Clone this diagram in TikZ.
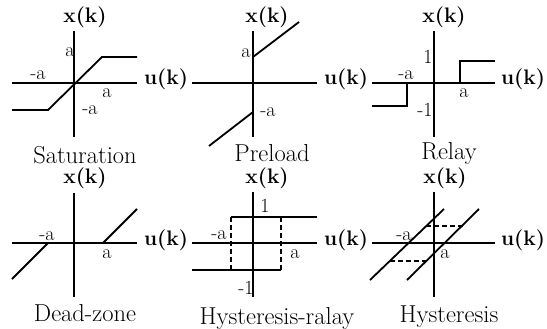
\documentclass[tikz,border=0pt]{standalone}
\begin{document}
\begin{tikzpicture}[x=1pt,y=-1pt,line width=1.8pt,
  axl/.style={font=\fontsize{21}{23}\selectfont\bfseries,inner sep=0pt},
  lbl/.style={font=\fontsize{20}{22}\selectfont,inner sep=0pt},
  captxt/.style={font=\fontsize{24.5}{26}\selectfont,inner sep=0pt},
  dsh/.style={line width=1.4pt,dash pattern=on 5pt off 3pt}]
\useasboundingbox (0,0) rectangle (547,329);
% Saturation
\draw (12,83) -- (137,83);
\draw (74,31) -- (74,137);
\draw (12,110) -- (48,110) -- (102,57) -- (137,57);
\node[axl] (s1x) at (85,17) {x(k)};
\node[axl] (s1u) at (166,79) {u(k)};
\node[lbl] (s1a) at (70,52) {a};
\node[lbl] (s1ma) at (38,75) {-a};
\node[lbl] (s1b) at (107,93) {a};
\node[lbl] (s1mb) at (90,110) {-a};
\node[captxt] (s1c) at (85,155) {Saturation};
% Preload
\draw (192,83) -- (317,83);
\draw (253,31) -- (253,137);
\draw (253,57) -- (299,22);
\draw (253,112) -- (209,146);
\node[axl] (s2x) at (267,17) {x(k)};
\node[axl] (s2u) at (346,79) {u(k)};
\node[lbl] (s2a) at (246,53) {a};
\node[lbl] (s2ma) at (268,112) {-a};
\node[captxt] (s2c) at (272,153) {Preload};
% Relay
\draw (372,83) -- (495,83);
\draw (434,31) -- (434,137);
\draw (372,106) -- (407,106) -- (407,83);
\draw (460,83) -- (460,61) -- (495,61);
\node[axl] (s3x) at (444,17) {x(k)};
\node[axl] (s3u) at (523,79) {u(k)};
\node[lbl] (s3one) at (428,57) {1};
\node[lbl] (s3mone) at (425,110) {-1};
\node[lbl] (s3ma) at (406,75) {-a};
\node[lbl] (s3a) at (464,93) {a};
\node[captxt] (s3c) at (449,153) {Relay};
% Dead-zone
\draw (12,243) -- (137,243);
\draw (74,193) -- (74,297);
\draw (103,243) -- (137,209);
\draw (48,243) -- (12,279);
\node[axl] (s4x) at (85,178) {x(k)};
\node[axl] (s4u) at (166,240) {u(k)};
\node[lbl] (s4ma) at (47,236) {-a};
\node[lbl] (s4a) at (107,254) {a};
\node[captxt] (s4c) at (85,313) {Dead-zone};
% Hysteresis-ralay
\draw (192,243) -- (317,243);
\draw (253,192) -- (253,297);
\draw (231,217) -- (317,217);
\draw (192,270) -- (281,270);
\draw[dsh] (231,217) -- (231,270);
\draw[dsh] (281,217) -- (281,270);
\node[axl] (s5x) at (267,178) {x(k)};
\node[axl] (s5u) at (346,240) {u(k)};
\node[lbl] (s5one) at (265,206) {1};
\node[lbl] (s5mone) at (246,288) {-1};
\node[lbl] (s5ma) at (219,235) {-a};
\node[lbl] (s5a) at (295,254) {a};
\node[captxt] (s5c) at (277,318) {Hysteresis-ralay};
% Hysteresis
\draw (372,243) -- (495,243);
\draw (434,192) -- (434,297);
\draw (370,280) -- (444,209);
\draw (407,280) -- (479,209);
\draw[dsh] (426,226) -- (463,226);
\draw[dsh] (390,261) -- (427,261);
\node[axl] (s6x) at (445,178) {x(k)};
\node[axl] (s6u) at (523,240) {u(k)};
\node[lbl] (s6ma) at (404,236) {-a};
\node[lbl] (s6a) at (445,254) {a};
\node[captxt] (s6c) at (449,317) {Hysteresis};
\end{tikzpicture}
\end{document}
